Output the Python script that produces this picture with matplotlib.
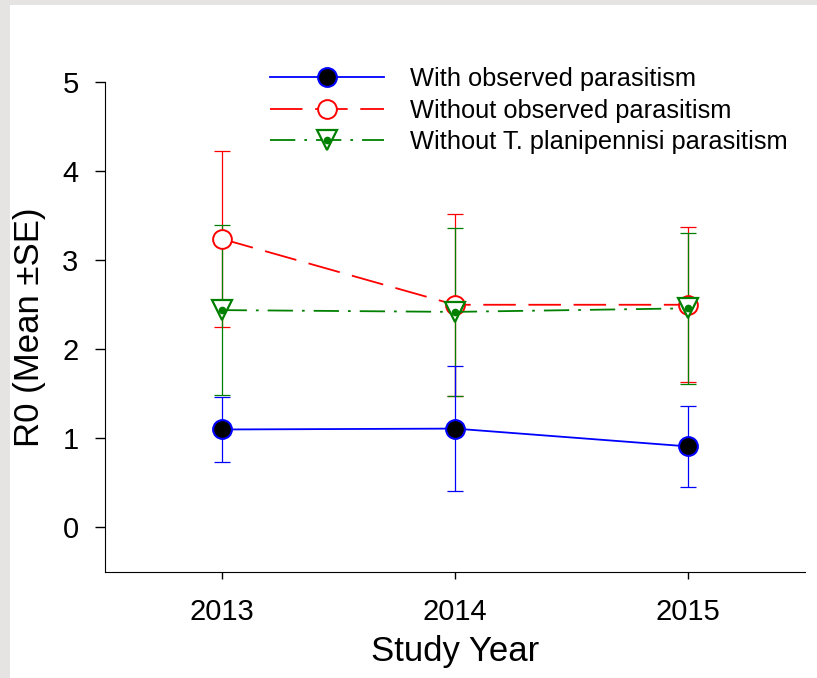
import numpy as np
import matplotlib.pyplot as plt
import matplotlib as mpl
from matplotlib.patches import Rectangle

mpl.rcParams['font.family'] = ['Liberation Sans', 'DejaVu Sans']

years = [2013, 2014, 2015]

with_obs = [1.10, 1.11, 0.91]
with_obs_se = [0.36, 0.70, 0.45]

without_obs = [3.24, 2.50, 2.50]
without_obs_se = [0.99, 1.02, 0.87]

without_tp = [2.44, 2.42, 2.46]
without_tp_se = [0.95, 0.94, 0.85]

labels = ['With observed parasitism',
          'Without observed parasitism',
          'Without T. planipennisi parasitism']

fig = plt.figure(figsize=(8.17, 6.78), dpi=100)
fig.patch.set_facecolor('#e6e4e2')
fig.patches.append(Rectangle((0.012, 0.0), 1.0, 0.992, transform=fig.transFigure,
                             facecolor='white', edgecolor='none', zorder=-10))

ax = fig.add_axes([0.1285, 0.1563, 0.8565, 0.7227])
ax.set_facecolor('white')

# error bars first
ax.errorbar(years, without_obs, yerr=without_obs_se, fmt='none', ecolor='red',
            elinewidth=0.9, capsize=5.5, capthick=0.9, zorder=2)
ax.errorbar(years, without_tp, yerr=without_tp_se, fmt='none', ecolor='green',
            elinewidth=0.9, capsize=5.5, capthick=0.9, zorder=2)
ax.errorbar(years, with_obs, yerr=with_obs_se, fmt='none', ecolor='blue',
            elinewidth=0.9, capsize=5.5, capthick=0.9, zorder=2)

l1, = ax.plot(years, with_obs, color='blue', lw=1.3, marker='o', ms=13.5,
              mfc='black', mec='blue', mew=1.5, zorder=4)
l2, = ax.plot(years, without_obs, color='red', lw=1.3, dashes=(18, 7), marker='o',
              ms=13.5, mfc='white', mec='red', mew=1.4, zorder=3)
l3, = ax.plot(years, without_tp, color='green', lw=1.3, dashes=(14, 5, 1.5, 5),
              marker='v', ms=14, mfc='white', mec='green', mew=1.6, zorder=3)
l3d, = ax.plot(years, without_tp, ls='none', marker='o', ms=4.5, mfc='green',
               mec='green', zorder=3.5)

fig.legend([l1, l2, (l3, l3d)], labels, loc='upper left', frameon=False,
           fontsize=18.3, handlelength=4.5, handletextpad=1.0, labelspacing=0.3,
           borderpad=0.4, bbox_to_anchor=(247 / 817, 1 - 44 / 678))

ax.set_xlim(2012.5, 2015.5)
ax.set_ylim(-0.5, 5)
ax.set_xticks(years)
ax.set_yticks([0, 1, 2, 3, 4, 5])
ax.spines['top'].set_visible(False)
ax.spines['right'].set_visible(False)
ax.tick_params(axis='both', direction='out', labelsize=21, width=1)
ax.tick_params(axis='y', length=7, pad=12)
ax.tick_params(axis='x', length=5, pad=14)

ax.set_xlabel('Study Year', fontsize=25, labelpad=6)
ax.set_ylabel('R0 (Mean ±SE)', fontsize=25, labelpad=12)

fig.savefig('out.png', dpi=100, facecolor=fig.get_facecolor())
